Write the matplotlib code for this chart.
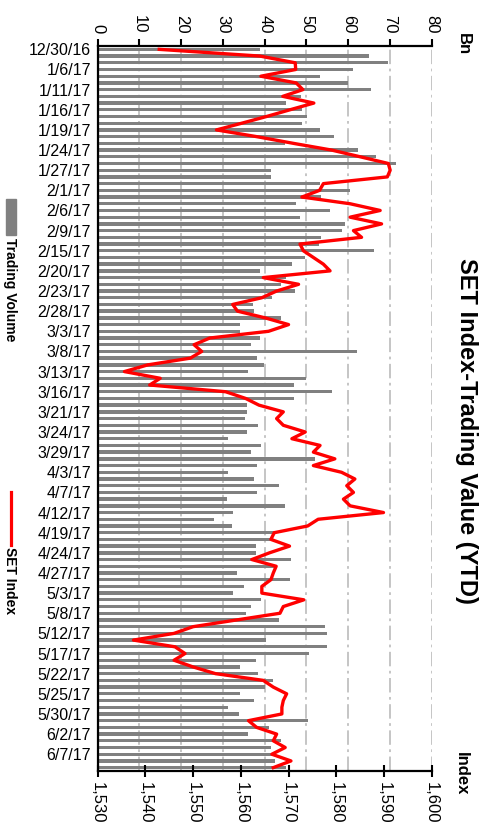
import matplotlib
matplotlib.use('Agg')
import matplotlib.pyplot as plt
from matplotlib.patches import Rectangle
from matplotlib.lines import Line2D

plt.rcParams['font.family'] = ['Liberation Sans', 'DejaVu Sans']

# etiquetas de fecha (una cada 3 barras)
FECHAS = ['12/30/16', '1/6/17', '1/11/17', '1/16/17', '1/19/17', '1/24/17', '1/27/17',
          '2/1/17', '2/6/17', '2/9/17', '2/15/17', '2/20/17', '2/23/17', '2/28/17',
          '3/3/17', '3/8/17', '3/13/17', '3/16/17', '3/21/17', '3/24/17', '3/29/17',
          '4/3/17', '4/7/17', '4/12/17', '4/19/17', '4/24/17', '4/27/17', '5/3/17',
          '5/8/17', '5/12/17', '5/17/17', '5/22/17', '5/25/17', '5/30/17', '6/2/17',
          '6/7/17']

# valor negociado (Bn)
VOLUMEN = [38.8, 65.1, 69.5, 61.2, 53.3, 60.0, 65.5, 48.6, 45.0, 49.0,
           50.2, 49.0, 53.3, 56.5, 44.8, 62.3, 66.7, 71.5, 41.6, 41.4,
           53.2, 60.5, 53.6, 47.4, 55.6, 48.4, 59.2, 58.6, 53.6, 53.0,
           66.2, 49.7, 46.6, 38.8, 45.0, 44.0, 47.3, 41.7, 37.1, 37.4,
           44.0, 34.0, 34.2, 38.8, 36.8, 62.2, 38.2, 39.8, 36.1, 50.0,
           47.0, 56.2, 47.0, 35.8, 35.8, 35.2, 38.5, 35.8, 31.1, 39.1,
           36.8, 52.0, 38.2, 31.1, 37.5, 43.5, 38.2, 30.9, 44.8, 32.4,
           27.8, 32.1, 42.2, 41.2, 38.0, 38.0, 46.4, 42.2, 33.4, 46.0,
           35.1, 32.4, 39.1, 36.8, 35.5, 43.5, 54.4, 55.0, 40.4, 55.0,
           50.6, 38.0, 34.2, 38.4, 42.0, 40.0, 34.2, 37.4, 31.1, 33.8,
           50.4, 41.0, 36.1, 43.8, 41.6, 42.0, 42.4, 45.1]

# indice SET
INDICE = [1542.9, 1564.0, 1571.4, 1571.5, 1564.2, 1571.6, 1573.0, 1568.8, 1575.3, 1570.3,
          1565.4, 1560.2, 1554.9, 1563.3, 1571.0, 1579.0, 1585.0, 1590.9, 1591.3, 1590.7,
          1577.3, 1576.5, 1572.8, 1582.9, 1589.2, 1582.9, 1589.5, 1583.6, 1585.3, 1572.4,
          1573.1, 1575.2, 1577.3, 1578.7, 1564.7, 1572.1, 1567.5, 1564.4, 1558.3, 1559.3,
          1565.1, 1570.0, 1565.8, 1553.5, 1550.2, 1551.8, 1549.4, 1540.5, 1535.6, 1543.1,
          1540.9, 1556.8, 1561.0, 1563.8, 1568.9, 1567.5, 1568.9, 1573.5, 1570.7, 1576.6,
          1575.2, 1579.7, 1575.2, 1581.1, 1583.9, 1582.2, 1583.6, 1581.5, 1582.9, 1589.9,
          1576.2, 1574.0, 1567.0, 1566.3, 1570.2, 1566.0, 1562.3, 1567.4, 1566.8, 1566.3,
          1564.4, 1564.4, 1573.2, 1568.9, 1568.2, 1559.1, 1550.0, 1546.0, 1537.5, 1546.2,
          1548.3, 1546.0, 1550.0, 1554.7, 1564.7, 1566.8, 1569.6, 1568.9, 1568.6, 1568.6,
          1561.6, 1563.3, 1567.5, 1566.8, 1569.3, 1566.5, 1570.5, 1566.8]

TICKS_VOL = [0, 10, 20, 30, 40, 50, 60, 70, 80]
TICKS_IDX = [1530, 1540, 1550, 1560, 1570, 1580, 1590, 1600]

GRIS = '#808080'
ROJO = '#ff0000'
W, H = 487, 831

pos = list(range(len(VOLUMEN)))

fig = plt.figure(figsize=(W / 100, H / 100), dpi=100)
ax = fig.add_axes([97.7 / W, 1 - 771 / H, 334 / W, 725 / H])
ax2 = ax.twiny()

# barras de volumen (eje superior)
ax.barh(pos, VOLUMEN, height=0.5, color=GRIS, zorder=2)
ax.set_xlim(0, 80)
ax.set_ylim(len(VOLUMEN) - 0.5, -0.5)
ax.set_xticks(TICKS_VOL)
ax.set_xticklabels([str(t) for t in TICKS_VOL])
ax.xaxis.tick_top()
ax.tick_params(axis='x', which='both', direction='out', length=5, width=1.5,
               labelsize=12, labelrotation=-90, pad=4)
ax.set_yticks(pos[::3])
ax.set_yticklabels(FECHAS)
ax.tick_params(axis='y', length=0, labelsize=11.5, pad=5)
ax.grid(axis='x', color='#c0c0c0', linewidth=1.3, linestyle=(0, (8, 2.5, 1.5, 2.5)), zorder=0)
ax.set_axisbelow(True)
for s in ['bottom', 'right']:
    ax.spines[s].set_visible(False)
for s in ['top', 'left']:
    ax.spines[s].set_visible(True)
    ax.spines[s].set_linewidth(1.6)
    ax.spines[s].set_color('black')

# linea del indice (eje inferior)
ax2.plot(INDICE, pos, color=ROJO, linewidth=2.4, zorder=3)
ax2.set_xlim(1530, 1600)
ax2.set_xticks(TICKS_IDX)
ax2.set_xticklabels([f'{t:,}' for t in TICKS_IDX])
ax2.xaxis.tick_bottom()
ax2.tick_params(axis='x', direction='inout', length=8, width=1.5,
                labelsize=12, labelrotation=-90, pad=4)
for s in ['top', 'left', 'right']:
    ax2.spines[s].set_visible(False)
ax2.spines['bottom'].set_visible(True)
ax2.spines['bottom'].set_linewidth(1.6)
ax2.spines['bottom'].set_color('black')

# textos
fig.text(466 / W, 1 - 430.5 / H, 'SET Index-Trading Value (YTD)', rotation=-90,
         ha='center', va='center', fontsize=17, fontweight='bold')
fig.text(463 / W, 1 - 44 / H, 'Bn', rotation=-90, ha='center', va='center',
         fontsize=12, fontweight='bold')
fig.text(461 / W, 1 - 774 / H, 'Index', rotation=-90, ha='center', va='center',
         fontsize=12, fontweight='bold')

# leyenda
fig.patches.append(Rectangle((6 / W, 1 - 235 / H), 10 / W, 36 / H,
                             transform=fig.transFigure, color=GRIS))
fig.text(9.5 / W, 1 - 238 / H, 'Trading Volume', rotation=-90, ha='center', va='top',
         fontsize=10, fontweight='bold')
fig.lines.append(Line2D([11.3 / W, 11.3 / W], [1 - 492 / H, 1 - 545 / H],
                        transform=fig.transFigure, color=ROJO, linewidth=2.3))
fig.text(9.5 / W, 1 - 547 / H, 'SET Index', rotation=-90, ha='center', va='top',
         fontsize=10, fontweight='bold')

fig.savefig('out.png', dpi=100)
